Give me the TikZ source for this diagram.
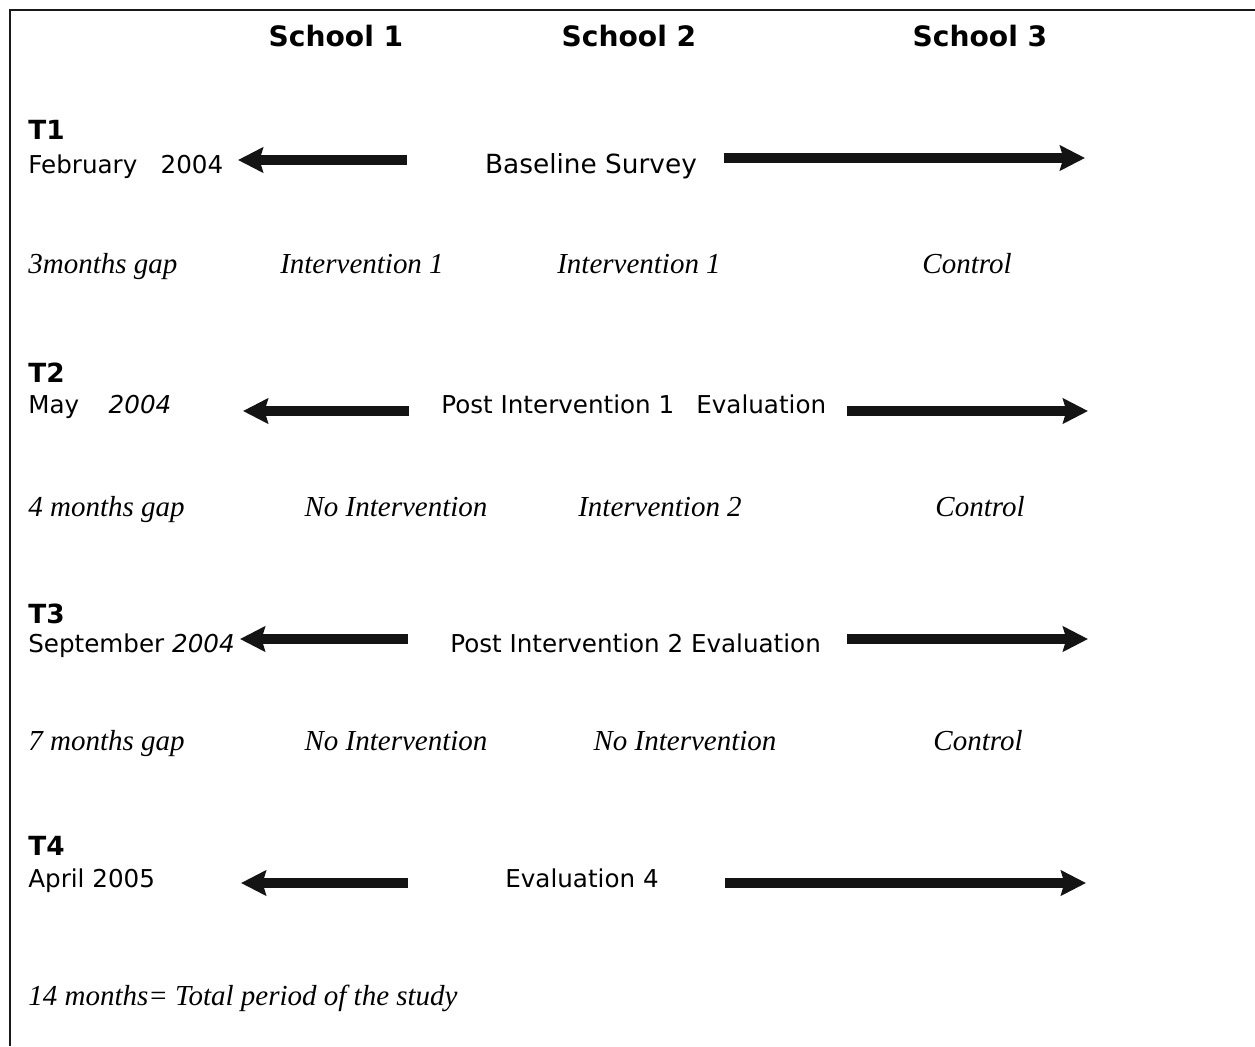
\documentclass[tikz,border=0pt]{standalone}
\usepackage{fontspec}
\newfontfamily\verd{DejaVu Sans}
\newfontfamily\tms{Liberation Serif}
\usetikzlibrary{arrows.meta}
\tikzset{
  frame/.style={line width=1.2pt, draw=black!90},
  school/.style={font=\verd\fontsize{16}{18}\selectfont\bfseries, inner sep=0pt, anchor=base},
  period/.style={font=\verd\fontsize{15}{18}\selectfont\bfseries, inner sep=0pt, anchor=base west},
  datelabel/.style={font=\verd\fontsize{14}{17}\selectfont, inner sep=0pt, anchor=base west},
  survey/.style={font=\verd\fontsize{14}{17}\selectfont, inner sep=0pt},
  gaplabel/.style={font=\tms\itshape\fontsize{16.5}{19}\selectfont, inner sep=0pt},
  bigarrow/.style={line width=6pt, draw=black!92, fill=black!92,
    -{Stealth[length=0.5cm, width=0.5cm, inset=0.07cm]}},
}

\begin{document}
\begin{tikzpicture}[x=0.02cm, y=-0.02cm]
\useasboundingbox (0,0) rectangle (1255,1046);
\draw[frame] (1255,10) -- (10,10) -- (10,1046);

% column heads
\node[school] (s1) at (336,46) {School 1};
\node[school] (s2) at (629,46) {School 2};
\node[school] (s3) at (980,46) {School 3};

% T1
\node[period] (t1) at (28,139) {T1};
\node[datelabel] (d1) at (28,173) {February\hspace{0.95em}2004};
\node[survey, anchor=base, font=\verd\fontsize{15}{17}\selectfont] (e1) at (591,173) {Baseline Survey};
\coordinate (a1w) at (238,160);
\coordinate (a1i) at (407,160);
\coordinate (b1i) at (724,158);
\coordinate (b1e) at (1085,158);
\draw[bigarrow] (a1i) -- (a1w);
\draw[bigarrow] (b1i) -- (b1e);

\node[gaplabel, anchor=base west] (g1) at (28,273) {3months gap};
\node[gaplabel, anchor=base] (g1a) at (362,273) {Intervention 1};
\node[gaplabel, anchor=base] (g1b) at (639,273) {Intervention 1};
\node[gaplabel, anchor=base] (g1c) at (967,273) {Control};

% T2
\node[period] (t2) at (28,382) {T2};
\node[datelabel] (d2) at (28,413) {May\hspace{1.2em}\itshape 2004};
\node[survey, anchor=base west] (e2) at (441,413) {Post Intervention 1\hspace{0.9em}Evaluation};
\coordinate (a2w) at (243,411);
\coordinate (a2i) at (409,411);
\coordinate (b2i) at (847,411);
\coordinate (b2e) at (1088,411);
\draw[bigarrow] (a2i) -- (a2w);
\draw[bigarrow] (b2i) -- (b2e);

\node[gaplabel, anchor=base west] (g2) at (28,516) {4 months gap};
\node[gaplabel, anchor=base] (g2a) at (396,516) {No Intervention};
\node[gaplabel, anchor=base] (g2b) at (660,516) {Intervention 2};
\node[gaplabel, anchor=base] (g2c) at (980,516) {Control};

% T3
\node[period] (t3) at (28,623) {T3};
\node[datelabel] (d3) at (28,652) {September {\itshape 2004}};
\node[survey, anchor=base west] (e3) at (450,652) {Post Intervention 2 Evaluation};
\coordinate (a3w) at (240,639);
\coordinate (a3i) at (408,639);
\coordinate (b3i) at (847,639);
\coordinate (b3e) at (1088,639);
\draw[bigarrow] (a3i) -- (a3w);
\draw[bigarrow] (b3i) -- (b3e);

\node[gaplabel, anchor=base west] (g3) at (28,750) {7 months gap};
\node[gaplabel, anchor=base] (g3a) at (396,750) {No Intervention};
\node[gaplabel, anchor=base] (g3b) at (685,750) {No Intervention};
\node[gaplabel, anchor=base] (g3c) at (978,750) {Control};

% T4
\node[period] (t4) at (28,855) {T4};
\node[datelabel] (d4) at (28,887) {April 2005};
\node[survey, anchor=base] (e4) at (582,887) {Evaluation 4};
\coordinate (a4w) at (241,883);
\coordinate (a4i) at (408,883);
\coordinate (b4i) at (725,883);
\coordinate (b4e) at (1086,883);
\draw[bigarrow] (a4i) -- (a4w);
\draw[bigarrow] (b4i) -- (b4e);

\node[gaplabel, anchor=base west] (total) at (28,1005) {14 months= Total period of the study};
\end{tikzpicture}
\end{document}
